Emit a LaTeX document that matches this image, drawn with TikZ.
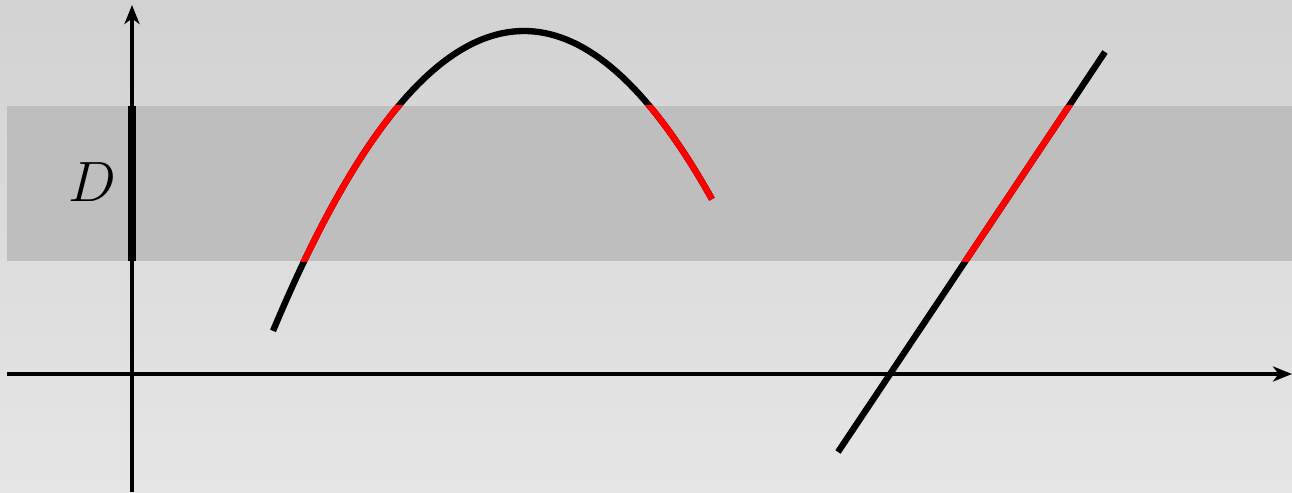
\documentclass[tikz,border=0pt]{standalone}
\usepackage{amsmath,amssymb}
\usepackage{tikz}
\usetikzlibrary{arrows.meta,positioning}
\definecolor{PlotInk}{HTML}{000000}
\definecolor{PlotHit}{HTML}{FF0000}
\definecolor{PlotBand}{HTML}{BEBEBE}
\definecolor{PlotTop}{HTML}{D2D2D2}
\definecolor{PlotBottom}{HTML}{E6E6E6}

\begin{document}
\begin{tikzpicture}[x=1cm,y=1cm]
    \tikzset{
      axis/.style={-{Stealth[length=3.8mm,width=3mm,inset=1.1mm]},draw=PlotInk,line width=2.3pt},
      graph/.style={draw=PlotInk,line width=3.6pt,line cap=butt},
      hit/.style={graph,draw=PlotHit},
      interval/.style={draw=PlotInk,line width=4.6pt,line cap=butt}
    }
    \shade[top color=PlotTop,bottom color=PlotBottom] (-2.64,-2.36) rectangle (23.2,7.48);
    \useasboundingbox (-2.64,-2.36) rectangle (23.2,7.48);
    \fill[PlotBand] (-2.5,2.26) rectangle (23.2,5.36);
    \coordinate (xl) at (-2.5,0);
    \coordinate (xr) at (23.2,0);
    \coordinate (yb) at (0,-2.36);
    \coordinate (yt) at (0,7.38);
    \coordinate (dl) at (0,2.26);
    \coordinate (du) at (0,5.36);
    \coordinate (l1) at (14.12,-1.56);
    \coordinate (l2) at (19.46,6.44);
    \draw[axis] (xl) -- (xr);
    \draw[axis] (yb) -- (yt);
    \draw[interval] (dl) -- (du);
    \node[anchor=center,font=\Huge,scale=1.3] (dlabel) at (-0.8,3.84) {$D$};
    \draw[graph] plot[domain=2.82:11.6,samples=80] (\x,{6.86-0.238*(\x-7.84)^2});
    \draw[graph] (l1) -- (l2);
    \begin{scope}
      \clip (-2.5,2.26) rectangle (23.2,5.36);
      \draw[hit] plot[domain=2.82:11.6,samples=80] (\x,{6.86-0.238*(\x-7.84)^2});
      \draw[hit] (l1) -- (l2);
    \end{scope}
  \end{tikzpicture}
\end{document}
